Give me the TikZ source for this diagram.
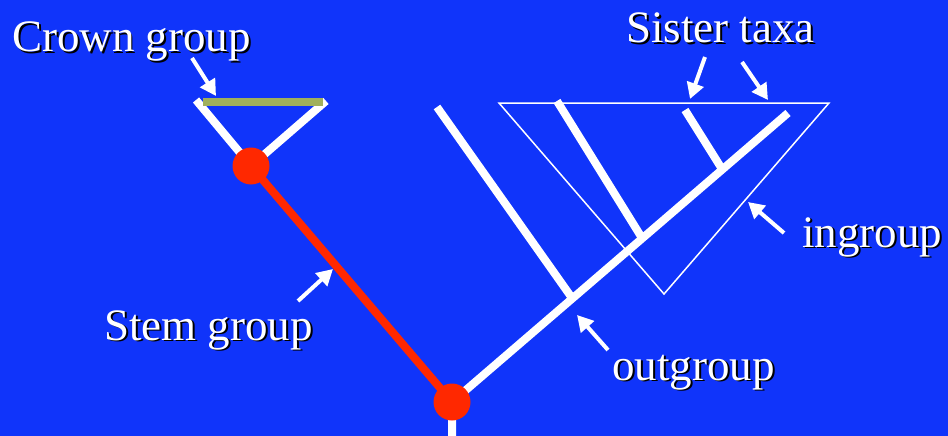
\documentclass[tikz,border=0pt]{standalone}
\usepackage{fontspec}
\setmainfont{Liberation Serif}
\usetikzlibrary{arrows.meta,calc}
\definecolor{fundal}{RGB}{16,52,250}
\definecolor{rosu}{RGB}{255,40,0}
\definecolor{oliv}{RGB}{160,176,92}
\tikzset{
  ramura/.style  = {draw=white, line width=8pt},
  tulpina/.style = {draw=rosu, line width=8pt},
  nod/.style     = {circle, fill=rosu, minimum size=37pt, inner sep=0pt},
  triunghi/.style= {draw=white, line width=1.5pt, line join=miter},
  sageata/.style = {draw=white, line width=4pt, -{Triangle[length=16pt,width=17pt]}},
  eticheta/.style= {text=white, font=\fontsize{45}{49}\selectfont, inner sep=0pt, anchor=base west}
}
\newcommand{\umbrit}[3]{%
  \node[eticheta, text=black] at ($(#2)+(1.8,1.8)$) {#3};
  \node[eticheta] (#1) at (#2) {#3};}

\begin{document}
\begin{tikzpicture}[x=1pt, y=-1pt]
	\fill[fundal] (0,0) rectangle (948,436);
	\useasboundingbox (0,0) rectangle (948,436);

	% puncte ale arborelui
	\coordinate (radacina) at (452,402);
	\coordinate (baza) at (452,436);
	\coordinate (coroana) at (251,166);
	\coordinate (cst) at (196,100);
	\coordinate (cdr) at (326,101);
	\coordinate (varf) at (788,113);
	\coordinate (j1) at (572,298);
	\coordinate (j2) at (642,238);
	\coordinate (j3) at (722,169);
	\coordinate (f1) at (437,107);
	\coordinate (f2) at (557,101);
	\coordinate (f3) at (685,110);

	% grupul intern
	\draw[triunghi] (499,103) coordinate (t1) -- (829,103) coordinate (t2) -- (664,294) coordinate (t3) -- cycle;

	% ramuri
	\draw[ramura] (baza) -- (radacina) -- (varf);
	\draw[ramura] (f1) -- (j1);
	\draw[ramura] (f2) -- (j2);
	\draw[ramura] (f3) -- (j3);
	\draw[ramura] (cst) -- (coroana) -- (cdr);
	\draw[draw=oliv, line width=8pt] (203,102) coordinate (g1) -- (323,102) coordinate (g2);
	\draw[tulpina] (coroana) -- (radacina);

	\node[nod] (nc) at (coroana) {};
	\node[nod] (nr) at (radacina) {};

	% texte
	\umbrit{crown}{12,52}{Crown group}
	\umbrit{sister}{626,43}{Sister taxa}
	\umbrit{ingroup}{802,247}{ingroup}
	\umbrit{stem}{104,340}{Stem group}
	\umbrit{outgroup}{612,380}{outgroup}

	% sageti
	\coordinate (a1) at (192,58);  \coordinate (b1) at (216,96);
	\coordinate (a2) at (705,57);  \coordinate (b2) at (690,99);
	\coordinate (a3) at (742,62);  \coordinate (b3) at (768,100);
	\coordinate (a4) at (784,233); \coordinate (b4) at (748,202);
	\coordinate (a5) at (298,301); \coordinate (b5) at (333,269);
	\coordinate (a6) at (608,350); \coordinate (b6) at (577,315);
	\draw[sageata] (a1) -- (b1);
	\draw[sageata] (a2) -- (b2);
	\draw[sageata] (a3) -- (b3);
	\draw[sageata] (a4) -- (b4);
	\draw[sageata] (a5) -- (b5);
	\draw[sageata] (a6) -- (b6);
\end{tikzpicture}
\end{document}
